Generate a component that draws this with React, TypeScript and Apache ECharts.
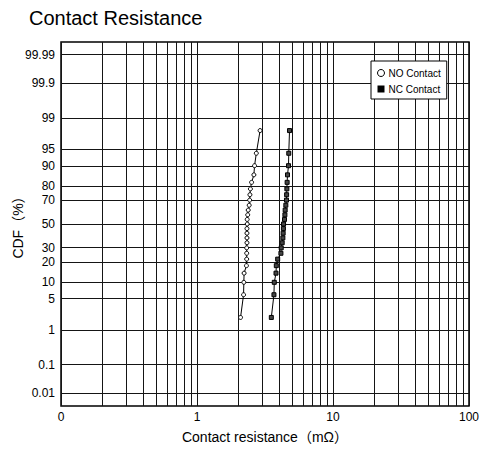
import React, { useEffect, useRef } from "react";
import * as echarts from "echarts";

// CDF plotting positions (%) shared by both series
const cdfPercent = [2, 6, 10, 14, 18, 22, 26, 30, 34, 38, 42, 46, 50, 54, 58, 62, 66, 70, 74, 78, 82, 86, 90, 94, 98];
// Contact resistance values (mΩ)
const noContact = [2.09, 2.2, 2.21, 2.22, 2.31, 2.32, 2.32, 2.32, 2.33, 2.33, 2.33, 2.33, 2.34, 2.34, 2.36, 2.38, 2.42, 2.44, 2.45, 2.47, 2.52, 2.62, 2.65, 2.73, 2.91];
const ncContact = [3.52, 3.68, 3.7, 3.81, 3.83, 3.92, 4.14, 4.16, 4.23, 4.28, 4.3, 4.32, 4.33, 4.4, 4.43, 4.45, 4.5, 4.55, 4.56, 4.58, 4.6, 4.63, 4.71, 4.73, 4.79];
// Probability-scale grid values and labels
const probTicks = [0.01, 0.1, 1, 5, 10, 20, 30, 50, 70, 80, 90, 95, 99, 99.9, 99.99];
const probLabels = ["0.01", "0.1", "1", "5", "10", "20", "30", "50", "70", "80", "90", "95", "99", "99.9", "99.99"];
// Minor log grid values
const minorX = [0.2, 0.3, 0.4, 0.5, 0.6, 0.7, 0.8, 0.9, 2, 3, 4, 5, 6, 7, 8, 9, 20, 30, 40, 50, 60, 70, 80, 90];

// inverse standard normal CDF (Acklam)
function probit(p: number): number {
  const a = [-3.969683028665376e1, 2.209460984245205e2, -2.759285104469687e2, 1.38357751867269e2, -3.066479806614716e1, 2.506628277459239];
  const b = [-5.447609879822406e1, 1.615858368580409e2, -1.556989798598866e2, 6.680131188771972e1, -1.328068155288572e1];
  const c = [-7.784894002430293e-3, -3.223964580411365e-1, -2.400758277161838, -2.549732539343734, 4.374664141464968, 2.938163982698783];
  const d = [7.784695709041462e-3, 3.224671290700398e-1, 2.445134137142996, 3.754408661907416];
  const pl = 0.02425;
  if (p < pl) {
    const q = Math.sqrt(-2 * Math.log(p));
    return (((((c[0] * q + c[1]) * q + c[2]) * q + c[3]) * q + c[4]) * q + c[5]) / ((((d[0] * q + d[1]) * q + d[2]) * q + d[3]) * q + 1);
  }
  if (p > 1 - pl) {
    const q = Math.sqrt(-2 * Math.log(1 - p));
    return -(((((c[0] * q + c[1]) * q + c[2]) * q + c[3]) * q + c[4]) * q + c[5]) / ((((d[0] * q + d[1]) * q + d[2]) * q + d[3]) * q + 1);
  }
  const q = p - 0.5;
  const r = q * q;
  return ((((((a[0] * r + a[1]) * r + a[2]) * r + a[3]) * r + a[4]) * r + a[5]) * q) / (((((b[0] * r + b[1]) * r + b[2]) * r + b[3]) * r + b[4]) * r + 1);
}

const FONT = "'Liberation Sans', Arial, 'Noto Sans CJK SC', sans-serif";
const GRID_COLOR = "#151515";

export default function App() {
  const ref = useRef<HTMLDivElement>(null);
  useEffect(() => {
    document.body.style.margin = "0";
    if (!ref.current) return;
    const chart = echarts.init(ref.current, undefined, { renderer: "svg" });
    const toZ = (pct: number) => probit(pct / 100);
    const gridLines: any[] = [];
    minorX.forEach((v) => gridLines.push({ xAxis: v, label: { show: false } }));
    probTicks.forEach((p, i) =>
      gridLines.push({
        yAxis: toZ(p),
        label: {
          show: true,
          position: "start",
          formatter: probLabels[i],
          distance: 6,
          fontSize: 12,
          color: "#000",
          fontFamily: FONT,
        },
      })
    );
    chart.setOption({
      animation: false,
      textStyle: { fontFamily: FONT },
      title: {
        text: "Contact Resistance",
        left: 29,
        top: 8,
        padding: 0,
        textStyle: { fontSize: 20, fontWeight: "normal", color: "#000", fontFamily: FONT },
      },
      legend: {
        orient: "vertical",
        left: 371,
        top: 61,
        z: 50,
        zlevel: 0,
        padding: [7, 6, 5, 6],
        itemWidth: 7,
        itemHeight: 7,
        itemGap: 6,
        backgroundColor: "#fff",
        borderColor: "#000",
        borderWidth: 1,
        borderRadius: 0,
        textStyle: { fontSize: 10, color: "#000", fontFamily: FONT, padding: [0, 0, 0, -1] },
        data: [
          { name: "NO Contact", icon: "circle", itemStyle: { color: "#fff", borderColor: "#000", borderWidth: 1 } },
          { name: "NC Contact", icon: "rect", itemStyle: { color: "#000", borderColor: "#000", borderWidth: 0 } },
        ],
      },
      grid: {
        left: 61,
        right: 9,
        top: 42,
        bottom: 46,
        show: true,
        borderColor: "#000",
        borderWidth: 1.5,
        backgroundColor: "transparent",
        containLabel: false,
      },
      xAxis: {
        type: "log",
        logBase: 10,
        min: 0.1,
        max: 100,
        name: "Contact resistance（mΩ）",
        nameLocation: "middle",
        nameGap: 24,
        nameTextStyle: { fontSize: 14, color: "#000", fontFamily: FONT },
        axisLine: { show: false },
        axisTick: { show: false },
        axisLabel: {
          fontSize: 12,
          color: "#000",
          margin: 5,
          fontFamily: FONT,
          formatter: (v: number) => (v < 1 ? "0" : String(Math.round(v))),
        },
        splitLine: { show: true, lineStyle: { color: GRID_COLOR, width: 1 } },
      },
      yAxis: {
        type: "value",
        min: -4,
        max: 4,
        name: "CDF（%）",
        nameLocation: "middle",
        nameGap: 36,
        nameRotate: 90,
        nameTextStyle: { fontSize: 14, color: "#000", fontFamily: FONT },
        axisLine: { show: false },
        axisTick: { show: false },
        axisLabel: { show: false },
        splitLine: { show: false },
      },
      series: [
        {
          name: "_grid",
          type: "line",
          data: [],
          z: 1,
          silent: true,
          markLine: {
            silent: true,
            z: 1,
            symbol: ["none", "none"],
            animation: false,
            lineStyle: { color: GRID_COLOR, width: 1, type: "solid" },
            emphasis: { disabled: true },
            data: gridLines,
          },
        },
        {
          name: "NO Contact",
          type: "line",
          z: 3,
          data: noContact.map((v, i) => [v, toZ(cdfPercent[i])]),
          symbol: "circle",
          symbolSize: 4,
          showAllSymbol: true,
          itemStyle: { color: "#fff", borderColor: "#000", borderWidth: 1 },
          lineStyle: { color: "#000", width: 1 },
        },
        {
          name: "NC Contact",
          type: "line",
          z: 3,
          data: ncContact.map((v, i) => [v, toZ(cdfPercent[i])]),
          symbol: "rect",
          symbolSize: 4,
          showAllSymbol: true,
          itemStyle: { color: "#444", borderColor: "#000", borderWidth: 1 },
          lineStyle: { color: "#000", width: 1 },
        },
      ],
    });
    return () => chart.dispose();
  }, []);
  return <div ref={ref} style={{ width: 482, height: 452 }} />;
}
